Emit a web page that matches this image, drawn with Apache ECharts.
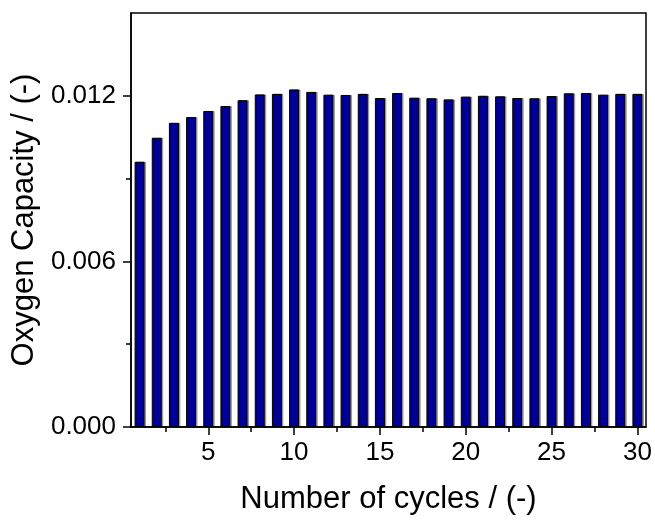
<!DOCTYPE html>
<html>
<head>
<meta charset="utf-8">
<script src="https://cdn.jsdelivr.net/npm/echarts@6/dist/echarts.min.js"></script>
<style>
  html, body { margin: 0; padding: 0; background: #ffffff; }
  #chart { width: 655px; height: 520px; }
</style>
</head>
<body>
<div id="chart"></div>
<script>
// Oxygen capacity per redox cycle
const cycles = [1, 2, 3, 4, 5, 6, 7, 8, 9, 10, 11, 12, 13, 14, 15,
                16, 17, 18, 19, 20, 21, 22, 23, 24, 25, 26, 27, 28, 29, 30];
const oxygenCapacity = [
  0.00961, 0.01048, 0.01102, 0.01123, 0.01145, 0.01163, 0.01184, 0.01205, 0.01207, 0.01223,
  0.01214, 0.01204, 0.01203, 0.01207, 0.01192, 0.01210, 0.01193, 0.01191, 0.01187, 0.01197,
  0.01200, 0.01198, 0.01192, 0.01191, 0.01199, 0.01209, 0.01210, 0.01204, 0.01207, 0.01207
];
const xMajorTicks = [5, 10, 15, 20, 25, 30];
const xMinorTicks = [2.5, 7.5, 12.5, 17.5, 22.5, 27.5];
const yMajorTicks = [0, 0.006, 0.012];
const yMinorTicks = [0.003, 0.009];

const FONT = "'Liberation Sans', Arial, sans-serif";
const INK = '#000000';

const chart = echarts.init(document.getElementById('chart'), null, { renderer: 'canvas' });

const xRange = { min: 0.5, max: 30.5 };
const yRange = { min: 0, max: 0.015 };

chart.setOption({
  animation: false,
  backgroundColor: '#ffffff',
  grid: {
    left: 131, right: 9, top: 13, bottom: 89.5,
    show: true, borderColor: INK, borderWidth: 1.5, backgroundColor: 'transparent'
  },
  xAxis: [
    {
      type: 'value', min: xRange.min, max: xRange.max,
      name: 'Number of cycles / (-)',
      nameLocation: 'middle', nameGap: 57,
      nameTextStyle: { fontFamily: FONT, fontSize: 31, color: INK },
      axisLine: { show: true, onZero: false, lineStyle: { color: INK, width: 1.5 } },
      axisTick: { show: true, inside: false, length: 8, customValues: xMajorTicks,
                  lineStyle: { color: INK, width: 1.5 } },
      axisLabel: { customValues: xMajorTicks, margin: 13,
                   fontFamily: FONT, fontSize: 26, color: INK },
      splitLine: { show: false }
    },
    {
      type: 'value', min: xRange.min, max: xRange.max, position: 'bottom',
      axisLine: { show: false },
      axisTick: { show: true, inside: false, length: 5, customValues: xMinorTicks,
                  lineStyle: { color: INK, width: 1.5 } },
      axisLabel: { show: false },
      splitLine: { show: false }
    }
  ],
  yAxis: [
    {
      type: 'value', min: yRange.min, max: yRange.max,
      name: 'Oxygen Capacity / (-)',
      nameLocation: 'middle', nameGap: 90,
      nameTextStyle: { fontFamily: FONT, fontSize: 31, color: INK },
      axisLine: { show: true, onZero: false, lineStyle: { color: INK, width: 1.5 } },
      axisTick: { show: true, inside: false, length: 8, customValues: yMajorTicks,
                  lineStyle: { color: INK, width: 1.5 } },
      axisLabel: { customValues: yMajorTicks, margin: 15,
                   formatter: v => v.toFixed(3),
                   fontFamily: FONT, fontSize: 26, color: INK },
      splitLine: { show: false }
    },
    {
      type: 'value', min: yRange.min, max: yRange.max, position: 'left',
      axisLine: { show: false },
      axisTick: { show: true, inside: false, length: 5, customValues: yMinorTicks,
                  lineStyle: { color: INK, width: 1.5 } },
      axisLabel: { show: false },
      splitLine: { show: false }
    }
  ],
  series: [
    {
      type: 'bar',
      xAxisIndex: 0, yAxisIndex: 0,
      data: cycles.map((c, i) => [c, oxygenCapacity[i]]),
      barWidth: 10,
      itemStyle: {
        color: '#000099',
        borderColor: INK,
        borderWidth: 1,
        shadowColor: 'rgba(0, 0, 0, 0.3)',
        shadowOffsetX: 1.5,
        shadowOffsetY: 0,
        shadowBlur: 0
      },
      emphasis: { disabled: true }
    }
  ]
});
</script>
</body>
</html>
